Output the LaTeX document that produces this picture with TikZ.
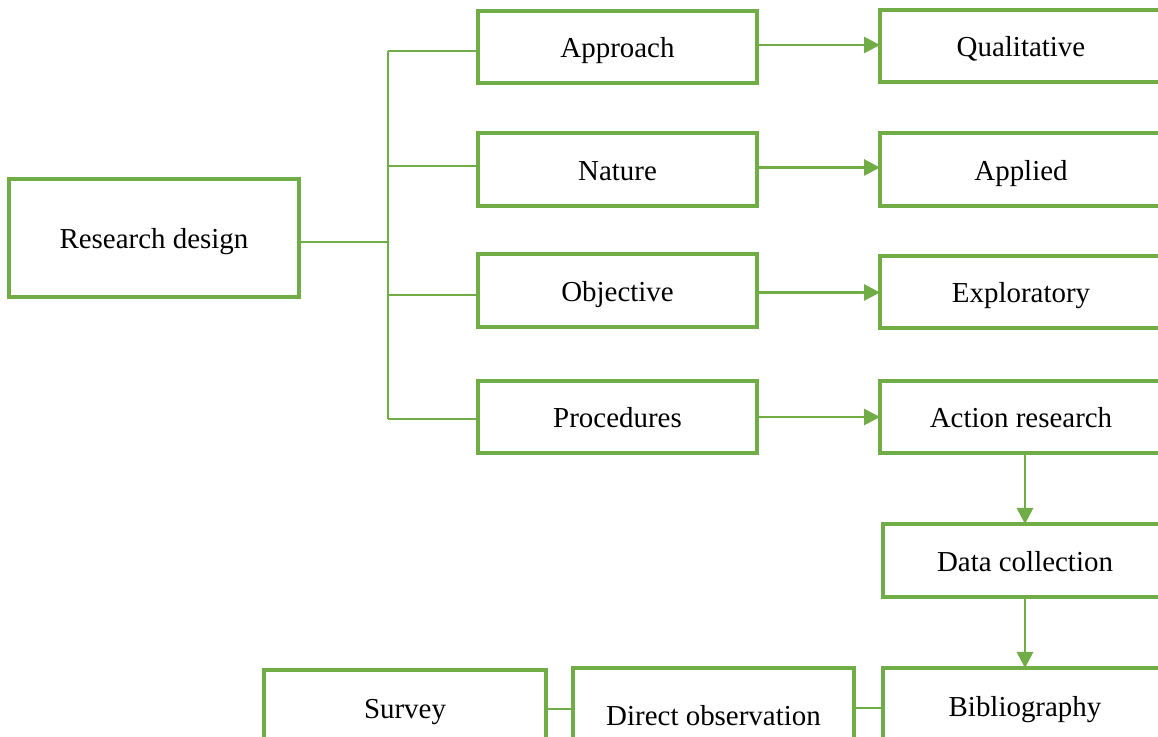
\documentclass[tikz,border=0pt]{standalone}
\usepackage{fontspec}
\setmainfont{Liberation Serif}
\usetikzlibrary{arrows.meta}
\definecolor{grn}{RGB}{112,173,71}
\begin{document}
\begin{tikzpicture}[x=0.75pt,y=-0.75pt,
  box/.style={draw=grn,line width=2.4pt,fill=white,inner sep=0pt,outer sep=0pt,
    font=\fontsize{21.7}{26}\selectfont,text height=17pt,text depth=0.5pt},
  thinline/.style={draw=grn,line width=1.3pt},
  arr/.style={draw=grn,line width=2.1pt,-{Triangle[length=12pt,width=12pt]}}]
\useasboundingbox (0,0) rectangle (1158,737);
\clip (0,0) rectangle (1158,737);
% nodes
\node[box,minimum width=217.5pt,minimum height=88.5pt] (rd) at (154,238) {Research design};
\node[box,minimum width=209.25pt,minimum height=54pt] (approach) at (617.5,47) {Approach};
\node[box,minimum width=209.25pt,minimum height=54.75pt] (nature) at (617.5,169.5) {Nature};
\node[box,minimum width=209.25pt,minimum height=54.75pt] (objective) at (617.5,290.5) {Objective};
\node[box,minimum width=209.25pt,minimum height=54pt] (procedures) at (617.5,417) {Procedures};
\node[box,minimum width=211.5pt,minimum height=54pt] (qual) at (1021,46) {Qualitative};
\node[box,minimum width=211.5pt,minimum height=54.75pt] (applied) at (1021,169.5) {Applied};
\node[box,minimum width=211.5pt,minimum height=54pt] (explor) at (1021,292) {Exploratory};
\node[box,minimum width=211.5pt,minimum height=54pt] (action) at (1021,417) {Action research};
\node[box,minimum width=213pt,minimum height=54.75pt] (datacol) at (1025,560.5) {Data collection};
\node[box,minimum width=213pt,minimum height=57pt] (biblio) at (1025,706) {Bibliography};
\node[box,minimum width=210.75pt,minimum height=70.5pt] (direct) at (713.5,715) {Direct observation};
\node[box,minimum width=211.5pt,minimum height=57pt] (survey) at (405,708) {Survey};
% tree connectors
\coordinate (tA) at (388,51);
\coordinate (tN) at (388,166);
\coordinate (tO) at (388,295);
\coordinate (tP) at (388,419);
\coordinate (tR) at (388,242);
\draw[thinline] (rd.east |- tR) -- (tR);
\draw[thinline] (tA) -- (tP);
\draw[thinline] (tA) -- (tA -| approach.west);
\draw[thinline] (tN) -- (tN -| nature.west);
\draw[thinline] (tO) -- (tO -| objective.west);
\draw[thinline] (tP) -- (tP -| procedures.west);
% arrows
\draw[arr] ([yshift=1.5pt]approach.east) -- ([yshift=1.5pt]approach.east -| qual.west);
\draw[arr] ([yshift=1.5pt]nature.east) -- ([yshift=1.5pt]nature.east -| applied.west);
\draw[arr] ([yshift=-1.5pt]objective.east) -- ([yshift=-1.5pt]objective.east -| explor.west);
\draw[arr] (procedures.east) -- (procedures.east -| action.west);
\draw[arr] (action.south -| datacol.north) -- (datacol.north);
\draw[arr] (datacol.south) -- (datacol.south |- biblio.north);
% bottom connectors
\coordinate (bS) at (0,709);
\coordinate (bD) at (0,708);
\draw[thinline] (survey.east |- bS) -- (direct.west |- bS);
\draw[thinline] (direct.east |- bD) -- (biblio.west |- bD);
\end{tikzpicture}
\end{document}
